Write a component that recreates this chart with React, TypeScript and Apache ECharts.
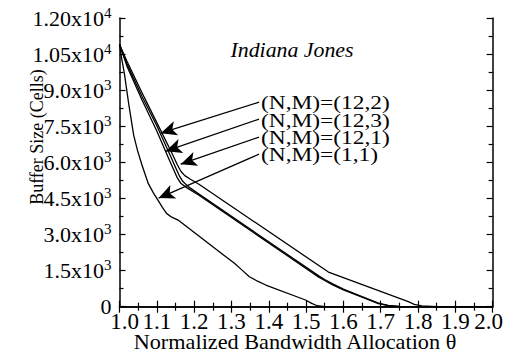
import { useEffect, useRef } from "react";
import * as echarts from "echarts";

const FONT = "'Liberation Serif', 'Times New Roman', serif";

// Normalized bandwidth allocation θ vs. buffer size (cells)
const curve12_2: [number, number][] = [
  [1.0, 10900], [1.02, 10200], [1.06, 8900], [1.1, 7650], [1.14, 6400],
  [1.155, 5900], [1.165, 5620], [1.175, 5450], [1.19, 5300], [1.214, 5080],
  [1.56, 1440], [1.58, 1320], [1.774, 210], [1.79, 100], [1.81, 30],
  [1.85, 0], [2.0, 0],
];
const curve12_3: [number, number][] = [
  [1.0, 10900], [1.02, 10100], [1.06, 8750], [1.1, 7520], [1.14, 6150],
  [1.15, 5800], [1.16, 5450], [1.17, 5200], [1.185, 4980], [1.214, 4670],
  [1.534, 1280], [1.55, 1130], [1.57, 960], [1.6, 730], [1.65, 420],
  [1.694, 150], [1.72, 55], [1.75, 10], [1.77, 0], [2.0, 0],
];
const curve12_1: [number, number][] = [
  [1.0, 10900], [1.02, 10000], [1.06, 8600], [1.1, 7300], [1.135, 6050],
  [1.145, 5700], [1.155, 5350], [1.165, 5120], [1.18, 4950], [1.214, 4620],
  [1.534, 1230], [1.55, 1090], [1.57, 920], [1.6, 700], [1.65, 400],
  [1.694, 130], [1.72, 45], [1.75, 5], [1.76, 0], [2.0, 0],
];
const curve1_1: [number, number][] = [
  [1.0, 10900], [1.006, 10300], [1.013, 9700], [1.025, 8400], [1.038, 7130],
  [1.048, 6507], [1.06, 5900], [1.077, 5124], [1.09, 4750], [1.103, 4431],
  [1.115, 4130], [1.126, 3879], [1.14, 3720], [1.157, 3600], [1.308, 1802],
  [1.33, 1500], [1.348, 1246], [1.37, 1060], [1.392, 901], [1.4985, 278],
  [1.515, 140], [1.53, 40], [1.55, 0], [2.0, 0],
];

const seriesNames = ["(N,M)=(12,2)", "(N,M)=(12,3)", "(N,M)=(12,1)", "(N,M)=(1,1)"];
const seriesData = [curve12_2, curve12_3, curve12_1, curve1_1];

// Annotation arrows: from the label (tail) to the curve (head), in data units
const arrowTails: [number, number][] = [
  [1.374, 8501], [1.374, 7795], [1.374, 7047], [1.374, 6341],
];
const arrowHeads: [number, number][] = [
  [1.1105, 7214], [1.124, 6466], [1.164, 5926], [1.105, 4514],
];

const xTickValues = [1.0, 1.1, 1.2, 1.3, 1.4, 1.5, 1.6, 1.7, 1.8, 1.9, 2.0];
const yTickValues = [0, 1500, 3000, 4500, 6000, 7500, 9000, 10500, 12000];
const yTickMantissas = ["0", "1.5x10", "3.0x10", "4.5x10", "6.0x10", "7.5x10", "9.0x10", "1.05x10", "1.20x10"];
const yTickExponents = ["", "3", "3", "3", "3", "3", "3", "4", "4"];

const title = "Indiana Jones";
const xName = "Normalized Bandwidth Allocation θ";
const yName = "Buffer Size (Cells)";

export default function App() {
  const ref = useRef<HTMLDivElement>(null);

  useEffect(() => {
    if (!ref.current) return;
    const chart = echarts.init(ref.current, null, { renderer: "svg" });

    const axisLine = { show: true, lineStyle: { color: "#000", width: 1.5 } };
    const axisTick = { show: true, inside: true, length: 6, lineStyle: { color: "#000", width: 1.2 } };
    const minorTick = { show: true, splitNumber: 2, length: 4, lineStyle: { color: "#000", width: 1.2 } };

    const xMin = xTickValues[0];
    const xMax = xTickValues[xTickValues.length - 1];
    const yMax = yTickValues[yTickValues.length - 1];

    // end labels sit slightly inward from their ticks
    const xLabel = (v: number) => {
      const s = v.toFixed(1);
      if (Math.abs(v - xMin) < 1e-6) return `{first|${s}}`;
      if (Math.abs(v - xMax) < 1e-6) return `{last|${s}}`;
      return `{n|${s}}`;
    };

    const yLabel = (v: number) => {
      const i = yTickValues.findIndex((t) => Math.abs(t - v) < 1e-6);
      if (i < 0) return "";
      return yTickExponents[i]
        ? `{m|${yTickMantissas[i]}}{e|${yTickExponents[i]}}`
        : `{m|${yTickMantissas[i]}}`;
    };

    const series: any[] = seriesData.map((d, i) => ({
      name: seriesNames[i],
      type: "line",
      data: d,
      showSymbol: false,
      smooth: false,
      lineStyle: { color: "#000", width: 1.3, join: "round" },
      silent: true,
      z: 3,
    }));

    series[0].markLine = {
      silent: true,
      symbol: ["none", "arrow"],
      symbolSize: [11, 16],
      label: { show: false },
      lineStyle: { color: "#000", width: 1.2, type: "solid" },
      data: arrowTails.map((t, i) => [{ coord: t }, { coord: arrowHeads[i] }]),
    };

    const xTickText = { fontFamily: FONT, fontSize: 23, lineHeight: 18, color: "#000" };

    chart.setOption({
      animation: false,
      backgroundColor: "#fff",
      grid: { left: 119.5, right: 19, top: 18, bottom: 47.3, containLabel: false },
      xAxis: [
        {
          type: "value", min: xMin, max: xMax, interval: 0.1, position: "bottom",
          axisLine, axisTick, minorTick, splitLine: { show: false },
          axisLabel: {
            formatter: xLabel, color: "#000", margin: 6,
            rich: {
              n: xTickText,
              first: { ...xTickText, padding: [0, 0, 0, 10] },
              last: { ...xTickText, padding: [0, 8, 0, 0] },
            },
          },
        },
        {
          type: "value", min: xMin, max: xMax, interval: 0.1, position: "top",
          axisLine, axisTick, minorTick, splitLine: { show: false },
          axisLabel: { show: false },
        },
      ],
      yAxis: [
        {
          type: "value", min: 0, max: yMax, interval: 1500, position: "left",
          axisLine, axisTick, minorTick, splitLine: { show: false },
          axisLabel: {
            formatter: yLabel, color: "#000", margin: 8,
            rich: {
              m: { fontFamily: FONT, fontSize: 22, lineHeight: 10, color: "#000" },
              e: { fontFamily: FONT, fontSize: 15, lineHeight: 15, color: "#000", padding: [0, 0, 11, 0] },
            },
          },
        },
        {
          type: "value", min: 0, max: yMax, interval: 1500, position: "right",
          axisLine, axisTick, minorTick, splitLine: { show: false },
          axisLabel: { show: false },
        },
      ],
      series,
      graphic: [
        {
          type: "text", x: 292, y: 50, scaleX: 1.04,
          style: {
            text: title, fill: "#000", fontFamily: FONT, fontSize: 21, fontStyle: "italic",
            textAlign: "center", textVerticalAlign: "middle",
          },
        },
        ...seriesNames.map((n, i) => ({
          type: "text", x: 261, y: 103.3 + i * 17.3, scaleX: 1.3,
          style: {
            text: n, fill: "#000", fontFamily: FONT, fontSize: 18, lineHeight: 16,
            textAlign: "left", textVerticalAlign: "middle",
          },
        })),
        {
          type: "text", x: 295, y: 342, scaleX: 1.06,
          style: {
            text: xName, fill: "#000", fontFamily: FONT, fontSize: 21,
            textAlign: "center", textVerticalAlign: "middle",
          },
        },
        {
          type: "text", x: 37, y: 137, rotation: Math.PI / 2,
          style: {
            text: yName, fill: "#000", fontFamily: FONT, fontSize: 18,
            textAlign: "center", textVerticalAlign: "middle",
          },
        },
      ],
    });

    return () => chart.dispose();
  }, []);

  return (
    <div
      ref={ref}
      style={{ position: "fixed", left: 0, top: 0, width: 514, height: 354, background: "#fff" }}
    />
  );
}
